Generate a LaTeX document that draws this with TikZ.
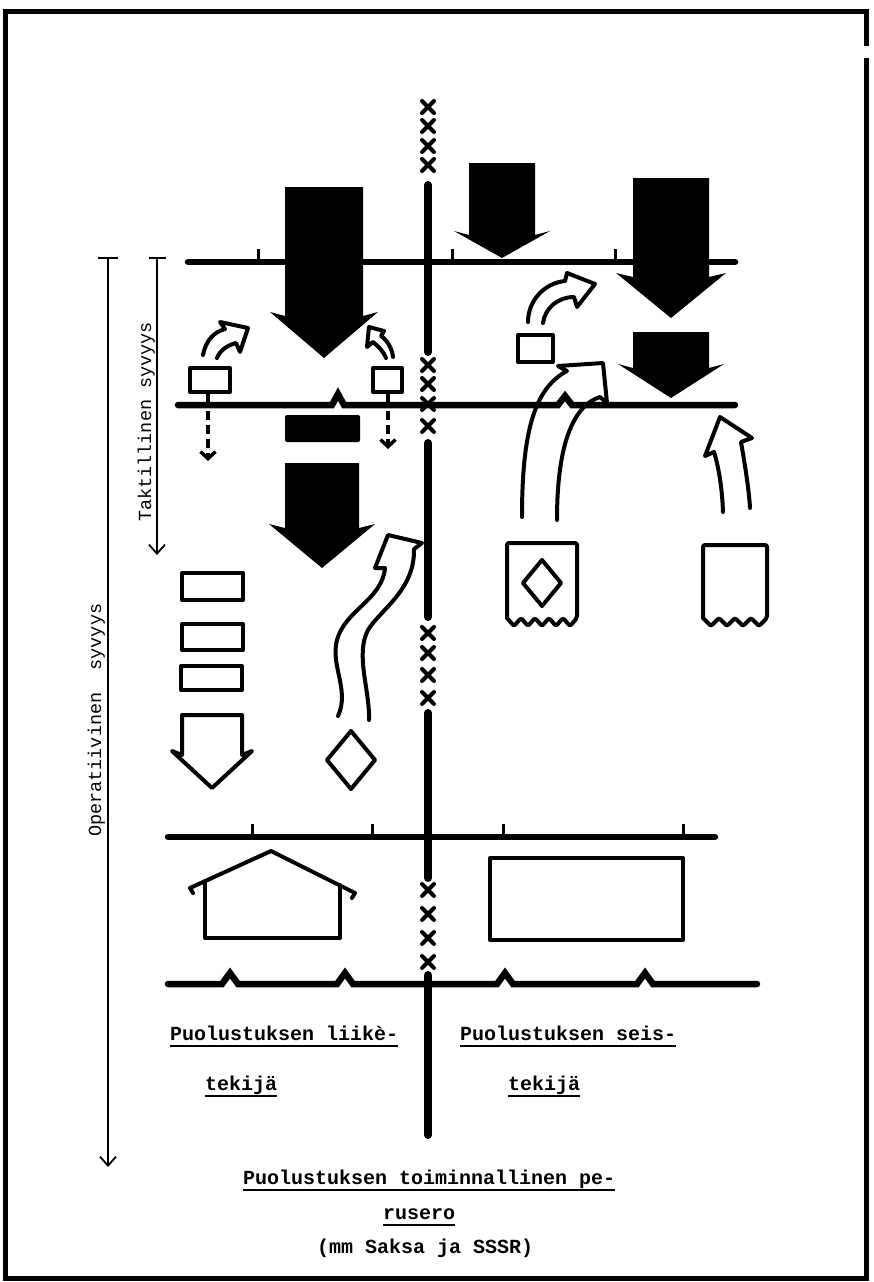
\documentclass[tikz,border=0pt]{standalone}
\usepackage{fontspec}
\setmonofont{Liberation Mono}
\usetikzlibrary{arrows.meta}

% filled thrust arrow: x, top, head, tip, half shaft, half wing
\newcommand{\thrust}[6]{\fill (#1-#5,#2) -- (#1+#5,#2) -- (#1+#5,#3) -- (#1+#6,#3-4) -- (#1,#4) -- (#1-#6,#3-4) -- (#1-#5,#3) -- cycle;}
\newcommand{\hollowthrust}[6]{\draw[outline] (#1-#5,#2) -- (#1+#5,#2) -- (#1+#5,#3) -- (#1+#6,#3-4) -- (#1,#4) -- (#1-#6,#3-4) -- (#1-#5,#3) -- cycle;}

\begin{document}
\begin{tikzpicture}[x=1pt,y=-1pt,
    front/.style={line width=6.5pt,line cap=round},
    rear/.style={line width=8pt,line cap=round},
    cross/.style={line width=4pt,line cap=round},
    outline/.style={line width=4pt,line join=round,line cap=round},
    tick/.style={line width=3pt},
    dashedarrow/.style={line width=3.5pt,dash pattern=on 9pt off 5pt,-{Straight Barb[length=7pt,width=15pt,line width=3.5pt]}},
    depth/.style={line width=1.8pt,-{Straight Barb[length=9pt,width=16pt,line width=1.8pt]}},
    label/.style={font=\ttfamily\bfseries\fontsize{20}{22}\selectfont,inner sep=0pt,anchor=base west},
    uline/.style={line width=2.8pt}]
  \useasboundingbox (0,0) rectangle (873,1282);
  \draw[line width=5pt] (866,58) -- (866,1278) -- (5,1278) -- (5,11) -- (866,11) -- (866,46);

  % front lines
  \draw[front] (188,262) -- (735,262);
  \foreach \x in {258,452,615} \draw[tick] (\x,262) -- (\x,249);
  \draw[front] (178,405) -- (332,405) -- (338,394) -- (344,405) -- (558,405) -- (565,396) -- (572,405) -- (735,405);
  \draw[front] (168,837) -- (715,837);
  \foreach \x in {252,372,503,683} \draw[tick] (\x,837) -- (\x,824);
  \draw[front] (168,984) \foreach \x in {230,345,505,645} {-- (\x-8,984) -- (\x,973) -- (\x+8,984)} -- (757,984);

  % boundary between sectors
  \foreach \a/\b in {185/352,443/617,713/878,975/1135} \draw[rear] (428,\a) -- (428,\b);
  \foreach \y in {107,126,146,165,365,384,404,426,633,653,675,698,890,914,938,962}
    \draw[cross] (428-6,\y-6) -- (428+6,\y+6) (428-6,\y+6) -- (428+6,\y-6);

  % depth axes
  \draw[line width=1.8pt] (98,258) -- (118,258);
  \draw[depth] (108,258) -- (108,1167);
  \draw[line width=1.8pt] (149,258) -- (166,258);
  \draw[depth] (157,258) -- (157,555);
  \node[label,rotate=90,font=\ttfamily\fontsize{18.5}{20}\selectfont] (opsyv) at (101,837) {Operatiivinen\ \ syvyys};
  \node[label,rotate=90,font=\ttfamily\fontsize{18.5}{20}\selectfont] (taksyv) at (151,522) {Taktillinen syvyys};

  % left sector
  \thrust{324}{187}{316}{358}{39}{54}
  \fill[rounded corners=2pt] (285,415) rectangle (360,442);
  \thrust{322}{463}{528}{568}{37}{53}
  \draw[outline] (190,368) rectangle (230,392);
  \draw[outline] (208,392) -- (208,405);
  \draw[dashedarrow] (208,411) -- (208,461);
  \draw[outline] (373,368) rectangle (402,392);
  \draw[outline] (388,392) -- (388,405);
  \draw[dashedarrow] (388,411) -- (388,449);
  \draw[outline] (203,355) .. controls (206,340) and (214,332) .. (225,329) -- (220,322) -- (248,328) -- (240,352) -- (236,343) .. controls (228,345) and (220,350) .. (217,358);
  \draw[outline] (393,357) .. controls (392,348) and (387,340) .. (381,336) -- (384,331) -- (369,327) -- (367,347) -- (373,342) .. controls (378,346) and (384,352) .. (386,358);
  \draw[outline] (182,573) rectangle (243,600);
  \draw[outline] (182,624) rectangle (243,650);
  \draw[outline] (181,666) rectangle (242,690);
  \hollowthrust{212}{715}{755}{788}{30}{40}
  \draw[outline] (351,731) -- (375,760) -- (351,789) -- (327,760) -- cycle;
  \draw[outline] (338,716) .. controls (350,690) and (330,665) .. (337,640) .. controls (345,610) and (382,600) .. (385,568) -- (375,568) -- (388,535) -- (422,543) -- (414,549) .. controls (415,590) and (380,610) .. (368,630) .. controls (355,655) and (370,690) .. (369,720);

  % right sector
  \thrust{502}{163}{235}{258}{33}{48}
  \thrust{671}{178}{277}{318}{38}{55}
  \thrust{671}{332}{368}{398}{38}{53}
  \draw[outline] (518,335) rectangle (553,362);
  \draw[outline] (528,322) .. controls (528,300) and (545,283) .. (565,281) -- (567,273) -- (595,284) -- (577,307) -- (574,297) .. controls (558,297) and (545,308) .. (543,323);
  \draw[outline] (522,517) .. controls (522,430) and (535,388) .. (567,371) -- (558,366) -- (603,363) -- (607,403) -- (600,397) .. controls (575,405) and (557,440) .. (557,520);
  \draw[outline] (723,512) .. controls (722,485) and (718,465) .. (714,452) -- (705,456) -- (720,417) -- (752,438) -- (741,442) .. controls (745,465) and (749,490) .. (750,508);
  \draw[outline,rounded corners=2pt] (507,618) -- (507,543) -- (577,543) -- (577,618) \foreach \i in {1,...,5} {-- ++(-7,8) -- ++(-7,-8)};
  \draw[outline] (542,560) -- (561,583) -- (542,606) -- (523,583) -- cycle;
  \draw[outline,rounded corners=2pt] (703,618) -- (703,545) -- (767,545) -- (767,618) \foreach \i in {1,...,4} {-- ++(-8,8) -- ++(-8,-8)};

  % rear positions
  \draw[outline] (193,893) -- (190,888) -- (271,851) -- (355,893) -- (352,898);
  \draw[outline] (205,881) -- (205,938) -- (340,938) -- (340,885);
  \draw[outline] (490,858) rectangle (683,940);

  % texts
  \node[label] (liike) at (170,1040) {Puolustuksen liikè-};
  \node[label] (liike2) at (205,1090) {tekijä};
  \node[label] (seis) at (460,1040) {Puolustuksen seis-};
  \node[label] (seis2) at (508,1090) {tekijä};
  \node[label] (perus) at (243,1184) {Puolustuksen toiminnallinen pe-};
  \node[label] (perus2) at (383,1219) {rusero};
  \node[label] (esim) at (317,1253) {(mm Saksa ja SSSR)};
  \foreach \t in {liike,liike2,seis,seis2,perus,perus2}
    \draw[uline] ([yshift=-6pt]\t.base west) -- ([yshift=-6pt]\t.base east);
\end{tikzpicture}
\end{document}
